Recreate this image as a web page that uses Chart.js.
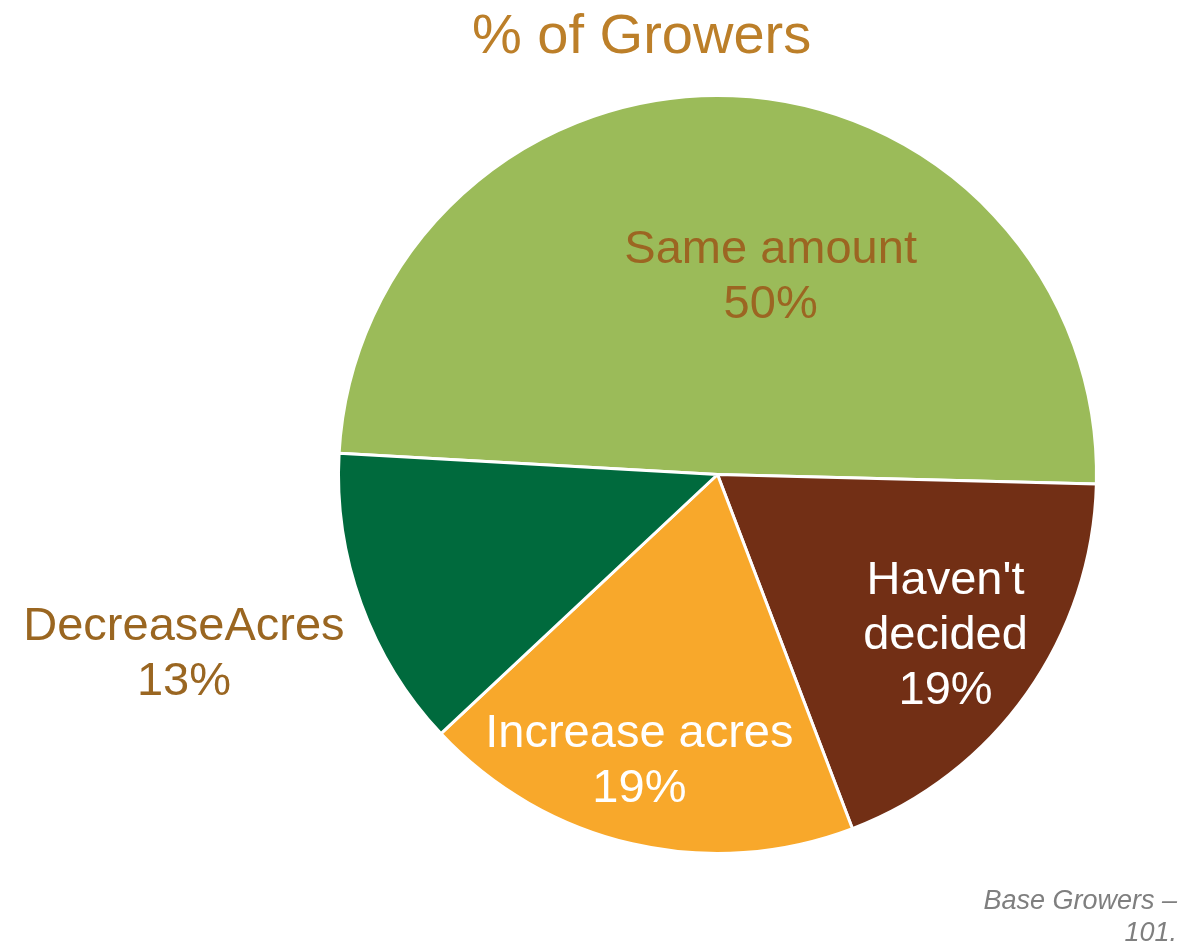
<!DOCTYPE html>
<html>
<head>
<meta charset="utf-8">
<script src="https://cdn.jsdelivr.net/npm/chart.js@4.4.1/dist/chart.umd.min.js"></script>
<style>
    body { margin: 0; background: #fff; }
    #wrap { position: relative; width: 1181px; height: 950px; font-family: 'Liberation Sans', Arial, sans-serif; }
    #title { position: absolute; left: 472px; top: 6px; font-size: 56px; line-height: 56px; color: #BC7F29; white-space: nowrap; }
    #note { position: absolute; right: 4px; top: 884px; font-size: 27px; line-height: 32px; font-style: italic; color: #7F7F7F; text-align: right; }
    canvas { position: absolute; left: 0; top: 0; }
</style>
</head>
<body>
<div id="wrap">
    <canvas id="pieChart" width="1181" height="950"></canvas>
    <div id="title">% of Growers</div>
    <div id="note">Base Growers –<br>101.</div>
</div>
<script>
// Chart data
const categories = ['Same amount', "Haven't decided", 'Increase acres', 'DecreaseAcres'];
const labelLines = [['Same amount'], ["Haven't", 'decided'], ['Increase acres'], ['DecreaseAcres']];
const percentValues = [50, 19, 19, 13];

// Styling
const sliceColors = ['#9BBB59', '#722F15', '#F8A82B', '#006A3D'];
const labelColors = ['#9C6522', '#FFFFFF', '#FFFFFF', '#9A6621'];
const labelRadius = [0.538, 0.737, 0.786, 1.486]; // fraction of outer radius
const labelShift = [12.8, 0, 2.2, 1.3];           // degrees from slice middle

const sliceLabels = {
    id: 'sliceLabels',
    afterDatasetsDraw(chart) {
        const ctx = chart.ctx;
        const arcs = chart.getDatasetMeta(0).data;
        ctx.save();
        ctx.font = '47px "Liberation Sans", Arial, sans-serif';
        ctx.textAlign = 'center';
        ctx.textBaseline = 'middle';
        const lineHeight = 55;
        arcs.forEach(function(arc, i) {
            const p = arc.getProps(['x', 'y', 'startAngle', 'endAngle', 'outerRadius'], true);
            const mid = (p.startAngle + p.endAngle) / 2 + labelShift[i] * Math.PI / 180;
            const r = p.outerRadius * labelRadius[i];
            const cx = p.x + Math.cos(mid) * r;
            const cy = p.y + Math.sin(mid) * r;
            const lines = labelLines[i].concat([percentValues[i] + '%']);
            const top = cy - (lines.length - 1) * lineHeight / 2;
            ctx.fillStyle = labelColors[i];
            lines.forEach(function(line, j) {
                ctx.fillText(line, cx, top + j * lineHeight);
            });
        });
        ctx.restore();
    }
};

document.addEventListener('DOMContentLoaded', function() {
    const ctx = document.getElementById('pieChart').getContext('2d');
    new Chart(ctx, {
        type: 'pie',
        data: {
            labels: categories,
            datasets: [{
                data: percentValues,
                backgroundColor: sliceColors,
                borderColor: '#ffffff',
                borderWidth: 3
            }]
        },
        options: {
            responsive: false,
            animation: false,
            rotation: 273.2,
            layout: {
                padding: { top: 94, bottom: 95, left: 337, right: 83 }
            },
            plugins: {
                legend: { display: false },
                tooltip: { enabled: false },
                title: { display: false }
            }
        },
        plugins: [sliceLabels]
    });
});
</script>
</body>
</html>
